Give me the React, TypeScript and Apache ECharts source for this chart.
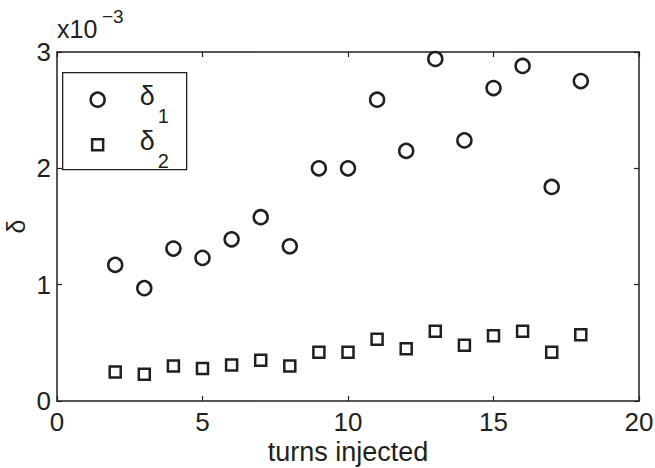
import React, { useEffect, useRef } from "react";
import * as echarts from "echarts";

// x: turns injected; y values in units of 1e-3
const turns = [2, 3, 4, 5, 6, 7, 8, 9, 10, 11, 12, 13, 14, 15, 16, 17, 18];
const delta1 = [1.17, 0.97, 1.31, 1.23, 1.39, 1.58, 1.33, 2.0, 2.0, 2.59, 2.15, 2.94, 2.24, 2.69, 2.88, 1.84, 2.75];
const delta2 = [0.25, 0.23, 0.3, 0.28, 0.31, 0.35, 0.3, 0.42, 0.42, 0.53, 0.45, 0.6, 0.48, 0.56, 0.6, 0.42, 0.57];
const xTicks = [0, 5, 10, 15, 20];
const yTicks = [0, 1, 2, 3];
const xName = "turns injected";
const yName = "δ";
const seriesNames = ["δ1", "δ2"];

const INK = "#231f20";
const FONT = "'Liberation Sans', Arial, Helvetica, sans-serif";

export default function App() {
  const ref = useRef<HTMLDivElement>(null);
  useEffect(() => {
    if (!ref.current) return;
    const chart = echarts.init(ref.current, null, { renderer: "svg" });
    const axisCommon = {
      type: "value" as const,
      splitLine: { show: false },
      axisLine: { show: true, onZero: false, lineStyle: { color: INK, width: 1.5 } },
      axisTick: { show: true, inside: true, length: 5, lineStyle: { color: INK, width: 1.2 } },
    };
    chart.setOption({
      animation: false,
      backgroundColor: "#ffffff",
      textStyle: { fontFamily: FONT },
      grid: { left: 57, right: 16, top: 52, bottom: 67, containLabel: false, outerBoundsMode: "none" },
      xAxis: [
        {
          ...axisCommon,
          min: xTicks[0],
          max: xTicks[xTicks.length - 1],
          interval: xTicks[1] - xTicks[0],
          position: "bottom",
          name: xName,
          nameLocation: "middle",
          nameGap: 39,
          nameMoveOverlap: false,
          nameTextStyle: { fontSize: 27, lineHeight: 24, color: INK, fontFamily: FONT },
          axisLabel: { fontSize: 26, lineHeight: 22, color: INK, margin: 10, fontFamily: FONT },
        },
        {
          ...axisCommon,
          min: xTicks[0],
          max: xTicks[xTicks.length - 1],
          interval: xTicks[1] - xTicks[0],
          position: "top",
          axisLabel: { show: false },
        },
      ],
      yAxis: [
        {
          ...axisCommon,
          min: yTicks[0],
          max: yTicks[yTicks.length - 1],
          interval: 1,
          position: "left",
          name: yName,
          nameLocation: "middle",
          nameGap: 29,
          nameMoveOverlap: false,
          nameRotate: 90,
          nameTextStyle: { fontSize: 25, color: INK, fontFamily: FONT },
          axisLabel: { fontSize: 26, color: INK, margin: 6, fontFamily: FONT },
        },
        {
          ...axisCommon,
          min: yTicks[0],
          max: yTicks[yTicks.length - 1],
          interval: 1,
          position: "right",
          axisLabel: { show: false },
        },
      ],
      series: [
        {
          name: seriesNames[0],
          type: "scatter",
          symbol: "circle",
          symbolSize: 14,
          data: turns.map((t, i) => [t, delta1[i]]),
          itemStyle: { color: "rgba(255,255,255,0)", borderColor: INK, borderWidth: 2.5, opacity: 1 },
          z: 3,
        },
        {
          name: seriesNames[1],
          type: "scatter",
          symbol: "rect",
          symbolSize: 11,
          data: turns.map((t, i) => [t, delta2[i]]),
          itemStyle: { color: "rgba(255,255,255,0)", borderColor: INK, borderWidth: 2.5, opacity: 1 },
          z: 3,
        },
      ],
      graphic: [
        {
          type: "text",
          left: 57,
          top: 16,
          style: { text: "x10", fontSize: 25, fill: INK, fontFamily: FONT },
        },
        {
          type: "text",
          left: 102,
          top: 7,
          style: { text: "−3", fontSize: 19, fill: INK, fontFamily: FONT },
        },
        {
          type: "group",
          left: 62,
          top: 72,
          z: 100,
          children: [
            {
              type: "rect",
              shape: { x: 0, y: 0, width: 124, height: 97 },
              style: { fill: "#ffffff", stroke: INK, lineWidth: 1.3 },
            },
            {
              type: "circle",
              shape: { cx: 35, cy: 27, r: 7 },
              style: { fill: "none", stroke: INK, lineWidth: 2.5 },
            },
            {
              type: "rect",
              shape: { x: 35 - 5.5, y: 72 - 5.5, width: 11, height: 11 },
              style: { fill: "none", stroke: INK, lineWidth: 2.5 },
            },
            {
              type: "text",
              x: 77,
              y: 10,
              style: { text: "δ", fontSize: 27, fill: INK, fontFamily: FONT },
            },
            {
              type: "text",
              x: 95,
              y: 33,
              style: { text: "1", fontSize: 20, fill: INK, fontFamily: FONT },
            },
            {
              type: "text",
              x: 77,
              y: 55,
              style: { text: "δ", fontSize: 27, fill: INK, fontFamily: FONT },
            },
            {
              type: "text",
              x: 95,
              y: 78,
              style: { text: "2", fontSize: 20, fill: INK, fontFamily: FONT },
            },
          ],
        },
      ],
    });
    return () => chart.dispose();
  }, []);
  return <div ref={ref} style={{ width: 655, height: 468, position: "absolute", left: 0, top: 0 }} />;
}
